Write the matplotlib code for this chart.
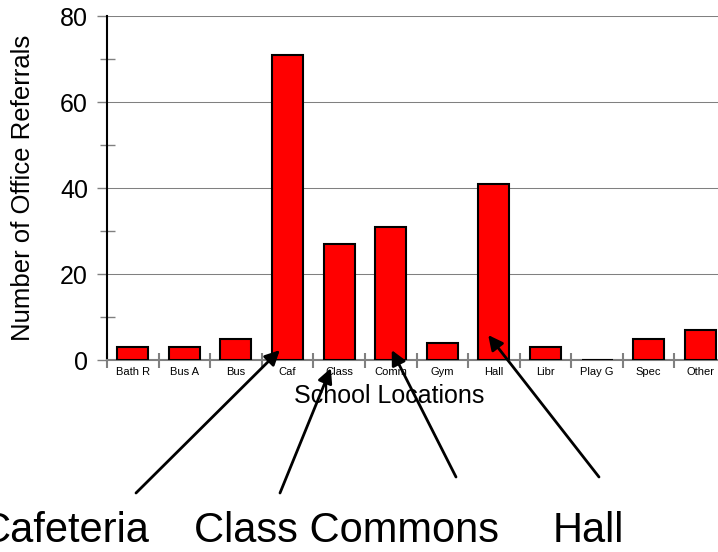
import numpy as np
import matplotlib
matplotlib.use("Agg")
import matplotlib.pyplot as plt

plt.rcParams['font.family'] = ['Liberation Sans', 'DejaVu Sans']

locations = ["Bath R", "Bus A", "Bus", "Caf", "Class", "Comm",
             "Gym", "Hall", "Libr", "Play G", "Spec", "Other"]
referrals = [3, 3, 5, 71, 27, 31, 4, 41, 3, 0, 5, 7]

# callouts: label text, its position (figure pixels), arrow tails and tips
callout_labels = ["Cafeteria", "Class Commons", "Hall"]
callout_pos = [(65, 21), (346, 21), (588, 21)]
arrow_tails = [(136, 59), (280, 59), (456, 75), (599, 75)]
arrow_tips = [(2.85, 2.3), (3.84, -1.9), (5.02, 2.3), (6.89, 5.8)]

W, H = 718, 552
fig = plt.figure(figsize=(W / 100, H / 100), dpi=100)
ax = fig.add_axes([107 / W, (H - 360) / H, 619 / W, 344 / H])

x = np.arange(len(locations))
ax.bar(x, referrals, width=0.6, color="#ff0000", edgecolor="black",
       linewidth=1.5, zorder=5)

ax.set_xlim(-0.5, len(locations) - 0.5)
ax.set_ylim(0, 80)

gray = "#808080"
for side in ("top", "right"):
    ax.spines[side].set_visible(False)
ax.spines["left"].set_linewidth(1.5)
ax.spines["left"].set_color("black")
ax.spines["bottom"].set_color(gray)
ax.spines["bottom"].set_linewidth(1.5)
ax.spines["bottom"].set_zorder(4)

# y axis: labelled ticks every 20, short crossing ticks in between
ax.set_yticks(np.arange(0, 81, 20))
ax.set_yticks(np.arange(10, 80, 20), minor=True)
ax.tick_params(axis="y", which="major", direction="out", length=7.2,
               width=1, color=gray, labelsize=18, pad=6.5)
ax.tick_params(axis="y", which="minor", direction="inout", length=10.8,
               width=1, color=gray)
ax.yaxis.grid(True, which="major", color=gray, linewidth=0.75, zorder=0)

# x axis: ticks between categories, labels at the category centres
ax.set_xticks(np.arange(-0.5, len(locations), 1.0))
ax.set_xticklabels([])
ax.set_xticks(x, minor=True)
ax.set_xticklabels(locations, minor=True)
ax.tick_params(axis="x", which="major", direction="inout", length=10.8,
               width=1.5, color=gray)
ax.tick_params(axis="x", which="minor", length=0, labelsize=8, pad=5)

ax.set_ylabel("Number of Office Referrals", fontsize=18.5, labelpad=18)
ax.set_xlabel("School Locations", fontsize=18)
ax.xaxis.set_label_coords((389 - 107) / 619, -24 / 344)

for label, (px, py) in zip(callout_labels, callout_pos):
    fig.text(px / W, py / H, label, fontsize=30, ha="center", va="center")

for tail, tip in zip(arrow_tails, arrow_tips):
    ax.annotate("", xy=tip, xycoords="data", xytext=tail,
                textcoords="figure pixels", annotation_clip=False,
                zorder=7,
                arrowprops=dict(arrowstyle="-|>", color="black", lw=2,
                                mutation_scale=22, shrinkA=0, shrinkB=0))

fig.savefig("out.png", dpi=100)
